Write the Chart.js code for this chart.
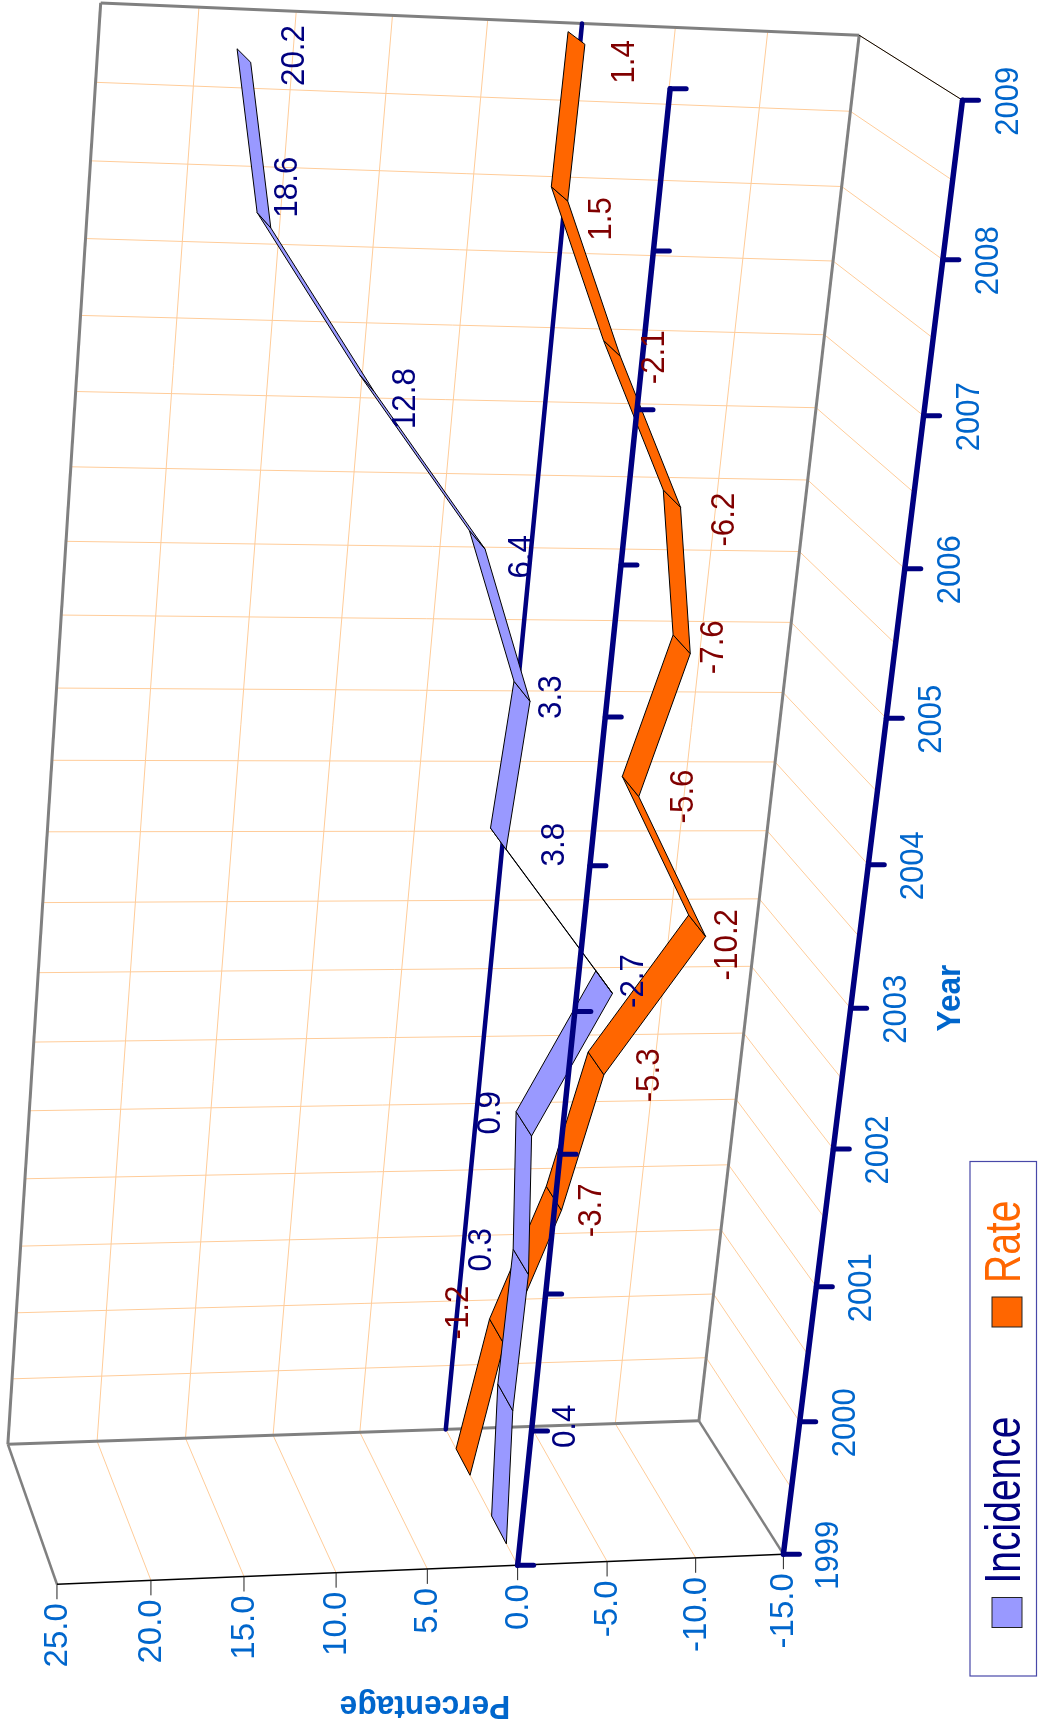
<!DOCTYPE html>
<html>
<head>
<meta charset="utf-8">
<title>Incidence and Rate</title>
<script src="https://cdn.jsdelivr.net/npm/chart.js"></script>
<style>
  html, body { margin: 0; padding: 0; background: #fff; }
  canvas { display: block; }
</style>
</head>
<body>
<canvas id="chart" width="1040" height="1726"></canvas>
<script>
// Data
const years = ['1999', '2000', '2001', '2002', '2003', '2004', '2005', '2006', '2007', '2008', '2009'];
const incidence = [0, 0.4, 0.3, 0.9, -2.7, 3.8, 3.3, 6.4, 12.8, 18.6, 20.2];
const rate = [0, -1.2, -3.7, -5.3, -10.2, -5.6, -7.6, -6.2, -2.1, 1.5, 1.4];
const percentTicks = [25, 20, 15, 10, 5, 0, -5, -10, -15];

const NAVY = '#000080';
const TICK_BLUE = '#0066cc';
const GRID = '#ffcc99';
const EDGE = '#808080';
const FONT = '"Liberation Sans", Arial, sans-serif';

// where the box corners land on the page, [X, Y, Z, pageX, pageY]
// X = along years, Y = up the values, Z = into the picture
const calibration = [
    [0, 0, 0, 782.7, 1554],
    [0, 1, 0, 56.7, 1584],
    [0, 0, 1, 698.7, 1420.7],
    [0, 1, 1, 7.3, 1444],
    [1, 1, 1, 100.7, 3.3],
    [1, 0, 1, 860, 35.7],
    [1, 0, 0, 961.7, 99.3],
    [0.1, 0, 0, 799, 1422],
    [0.9, 0, 0, 943, 260],
    [0, 0.375, 0, 520, 1565.7],
    [1, 0.375, 1, 582, 23],
    [1, 0.375, 0, 670, 89]
];

// least squares for the 11 numbers of the perspective matrix
function solveProjection(rows) {
    const n = 11;
    const A = [];
    for (let i = 0; i < n; i++) A.push(new Array(n + 1).fill(0));
    const addRow = (r, v) => {
        for (let i = 0; i < n; i++) {
            for (let j = 0; j < n; j++) A[i][j] += r[i] * r[j];
            A[i][n] += r[i] * v;
        }
    };
    rows.forEach(([X, Y, Z, px, py]) => {
        addRow([X, Y, Z, 1, 0, 0, 0, 0, -px * X, -px * Y, -px * Z], px);
        addRow([0, 0, 0, 0, X, Y, Z, 1, -py * X, -py * Y, -py * Z], py);
    });
    for (let c = 0; c < n; c++) {
        let best = c;
        for (let r = c + 1; r < n; r++) if (Math.abs(A[r][c]) > Math.abs(A[best][c])) best = r;
        [A[c], A[best]] = [A[best], A[c]];
        for (let r = 0; r < n; r++) {
            if (r === c) continue;
            const f = A[r][c] / A[c][c];
            for (let k = c; k <= n; k++) A[r][k] -= f * A[c][k];
        }
    }
    return A.map((row, i) => row[n] / row[i]);
}
const P = solveProjection(calibration);

function project(X, Y, Z) {
    const w = P[8] * X + P[9] * Y + P[10] * Z + 1;
    return [
        (P[0] * X + P[1] * Y + P[2] * Z + P[3]) / w,
        (P[4] * X + P[5] * Y + P[6] * Z + P[7]) / w
    ];
}

function boxX(chart, index) {
    const a = chart.chartArea;
    return (chart.scales.x.getPixelForValue(index) - a.left) / a.width;
}
function boxY(chart, value) {
    const a = chart.chartArea;
    return (a.bottom - chart.scales.y.getPixelForValue(value)) / a.height;
}

function line3d(ctx, from, to, color, width, cap) {
    const p = project(from[0], from[1], from[2]);
    const q = project(to[0], to[1], to[2]);
    ctx.beginPath();
    ctx.moveTo(p[0], p[1]);
    ctx.lineTo(q[0], q[1]);
    ctx.strokeStyle = color;
    ctx.lineWidth = width;
    ctx.lineCap = cap || 'butt';
    ctx.stroke();
}

function turnedText(ctx, text, x, y, angle, font, color, squeeze, align) {
    ctx.save();
    ctx.translate(x, y);
    ctx.rotate(angle);
    ctx.scale(squeeze, 1);
    ctx.font = font;
    ctx.fillStyle = color;
    ctx.textAlign = align || 'center';
    ctx.textBaseline = 'middle';
    ctx.fillText(text, 0, 0);
    ctx.restore();
}

const UP = -Math.PI / 2;

// a line drawn as a flat strip running into the picture
class RibbonController extends Chart.LineController {
    draw() {
        const chart = this.chart;
        const ctx = chart.ctx;
        const a = chart.chartArea;
        const ds = this.getDataset();
        const pts = this.getMeta().data.map(el => [
            (el.x - a.left) / a.width,
            (a.bottom - el.y) / a.height
        ]);
        ctx.save();
        ctx.lineWidth = 1;
        ctx.lineJoin = 'miter';
        ctx.strokeStyle = ds.borderColor;
        ctx.fillStyle = ds.backgroundColor;
        for (let i = 0; i < pts.length - 1; i++) {
            const quad = [
                project(pts[i][0], pts[i][1], ds.depth[0]),
                project(pts[i + 1][0], pts[i + 1][1], ds.depth[0]),
                project(pts[i + 1][0], pts[i + 1][1], ds.depth[1]),
                project(pts[i][0], pts[i][1], ds.depth[1])
            ];
            ctx.beginPath();
            quad.forEach((p, k) => (k ? ctx.lineTo(p[0], p[1]) : ctx.moveTo(p[0], p[1])));
            ctx.closePath();
            ctx.fill();
            ctx.stroke();
        }
        ctx.restore();
    }
}
RibbonController.id = 'ribbon';
Chart.register(RibbonController);

const boxPlugin = {
    id: 'box',
    beforeDatasetsDraw(chart) {
        const ctx = chart.ctx;
        ctx.save();
        // grid
        percentTicks.forEach(v => {
            const Y = boxY(chart, v);
            line3d(ctx, [0, Y, 1], [1, Y, 1], GRID, 1);
            line3d(ctx, [0, Y, 0], [0, Y, 1], GRID, 1);
        });
        for (let i = 0; i <= (years.length - 1) * 2; i++) {
            const X = boxX(chart, i / 2);
            line3d(ctx, [X, 0, 1], [X, 1, 1], GRID, 1);
            line3d(ctx, [X, 0, 0], [X, 0, 1], GRID, 1);
        }
        // box edges
        line3d(ctx, [0, 0, 1], [0, 1, 1], EDGE, 3);
        line3d(ctx, [0, 1, 1], [1, 1, 1], EDGE, 3);
        line3d(ctx, [1, 1, 1], [1, 0, 1], EDGE, 3);
        line3d(ctx, [1, 0, 1], [0, 0, 1], EDGE, 3);
        line3d(ctx, [0, 0, 0], [0, 0, 1], EDGE, 2.5);
        line3d(ctx, [0, 1, 0], [0, 1, 1], EDGE, 2.5);
        line3d(ctx, [0, 0, 0], [0, 1, 0], '#000', 1.5);
        line3d(ctx, [1, 0, 0], [1, 0, 1], '#000', 1);
        // zero line on the back wall
        const zero = boxY(chart, 0);
        line3d(ctx, [0, zero, 1], [1, zero, 1], NAVY, 4.5, 'round');
        ctx.restore();
    },
    afterDatasetsDraw(chart) {
        const ctx = chart.ctx;
        ctx.save();
        const zero = boxY(chart, 0);
        const tickFont = '33px ' + FONT;

        // value axis ticks and labels
        percentTicks.forEach(v => {
            const p = project(0, boxY(chart, v), 0);
            ctx.beginPath();
            ctx.moveTo(p[0], p[1]);
            ctx.lineTo(p[0], p[1] + 15);
            ctx.strokeStyle = '#222';
            ctx.lineWidth = 1;
            ctx.stroke();
            turnedText(ctx, v.toFixed(1), p[0] + 1, p[1] + 19, UP, tickFont, TICK_BLUE, 1, 'right');
        });

        // thick year axes with their ticks
        [0, zero].forEach(Y => {
            line3d(ctx, [0, Y, 0], [1, Y, 0], NAVY, 5.5, 'round');
            years.forEach((yr, i) => {
                const p = project(boxX(chart, i), Y, 0);
                ctx.beginPath();
                ctx.moveTo(p[0], p[1]);
                ctx.lineTo(p[0] + 16, p[1]);
                ctx.strokeStyle = NAVY;
                ctx.lineWidth = 5;
                ctx.lineCap = 'round';
                ctx.stroke();
                ctx.lineCap = 'butt';
                if (Y === 0) turnedText(ctx, yr, p[0] + 46, p[1] + 1, UP, tickFont, TICK_BLUE, 0.94);
            });
        });

        // axis titles
        turnedText(ctx, 'Percentage', 425, 1705, Math.PI, 'bold 34px ' + FONT, TICK_BLUE, 0.93);
        turnedText(ctx, 'Year', 951, 998, UP, 'bold 34px ' + FONT, TICK_BLUE, 0.93);

        // value labels
        chart.data.datasets.forEach((ds, d) => {
            const meta = chart.getDatasetMeta(d);
            const a = chart.chartArea;
            const mid = (ds.depth[0] + ds.depth[1]) / 2;
            ds.data.forEach((v, i) => {
                if (i === 0) return;
                const el = meta.data[i];
                const p = project((el.x - a.left) / a.width, (a.bottom - el.y) / a.height, mid);
                const shift = ds.labelShift[i - 1];
                turnedText(ctx, v.toFixed(1), p[0] + shift[0] + 1.5, p[1] + shift[1], UP, '33px ' + FONT, ds.labelColor, 0.95);
            });
        });

        // legend
        ctx.strokeStyle = '#4848a8';
        ctx.lineWidth = 1.2;
        ctx.strokeRect(970, 1161.5, 66.5, 514.5);
        chart.data.datasets.forEach(ds => {
            ctx.fillStyle = ds.backgroundColor;
            ctx.fillRect(ds.legendAt[0], ds.legendAt[1], 30, 30);
            ctx.strokeStyle = '#222';
            ctx.lineWidth = 1;
            ctx.strokeRect(ds.legendAt[0], ds.legendAt[1], 30, 30);
            turnedText(ctx, ds.label, 1006, ds.legendAt[1] - 14, UP, '50px ' + FONT, ds.legendColor, 0.78, 'left');
        });
        ctx.restore();
    }
};

new Chart(document.getElementById('chart'), {
    type: 'ribbon',
    data: {
        labels: years,
        datasets: [
            {
                label: 'Incidence',
                data: incidence,
                backgroundColor: '#9999ff',
                borderColor: '#000',
                labelColor: NAVY,
                legendColor: NAVY,
                legendAt: [992, 1597.5],
                depth: [0.15, 0.35],
                clip: false,
                labelShift: [[59, 29], [-40, -12], [-34, -11], [28, -1], [55, 6], [28, 6], [43, 17], [38, 16], [22, -33], [50, 0]]
            },
            {
                label: 'Rate',
                data: rate,
                backgroundColor: '#ff6600',
                borderColor: '#000',
                labelColor: '#800000',
                legendColor: '#ff6600',
                legendAt: [992, 1297],
                depth: [0.65, 0.85],
                clip: false,
                labelShift: [[-39, -19], [37, 12], [52, 12], [29, 19], [52, 10], [31, 3], [52, 21], [42, 9], [41, 25], [47, 24]]
            }
        ]
    },
    options: {
        responsive: false,
        animation: false,
        layout: { padding: 0 },
        plugins: {
            legend: { display: false },
            tooltip: { enabled: false }
        },
        scales: {
            x: { type: 'category', display: false, offset: false },
            y: { type: 'linear', display: false, min: percentTicks[percentTicks.length - 1], max: percentTicks[0] }
        }
    },
    plugins: [boxPlugin]
});
</script>
</body>
</html>
